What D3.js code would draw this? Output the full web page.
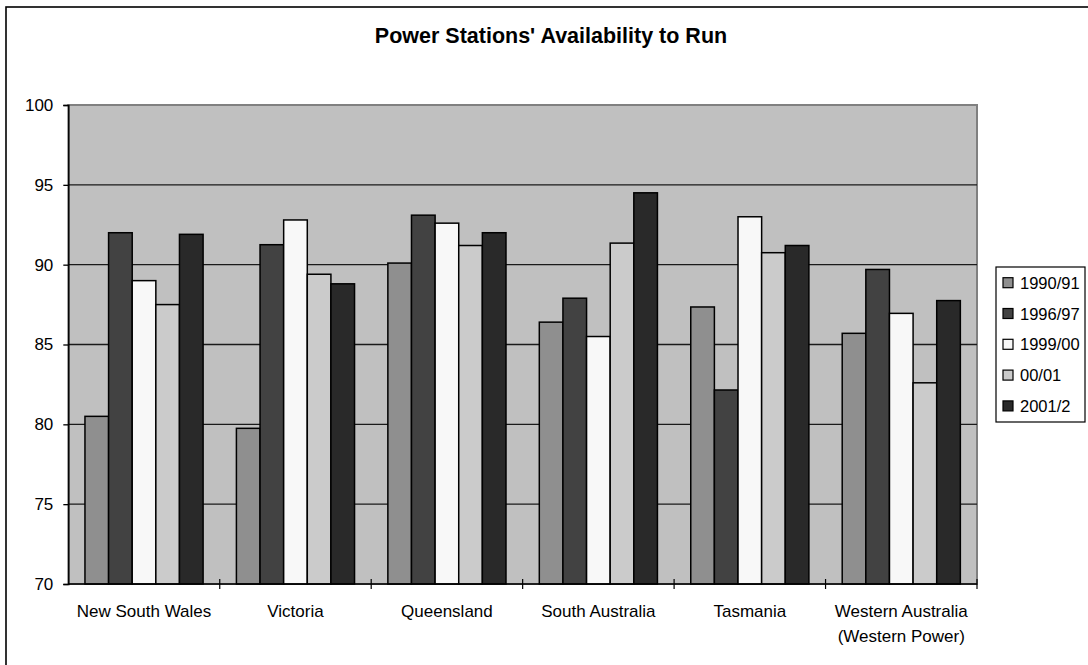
<!DOCTYPE html>
<html>
<head>
<meta charset="utf-8">
<script src="https://cdn.jsdelivr.net/npm/d3@7"></script>
<style>
  html, body { margin: 0; padding: 0; background: #fff; }
  svg { display: block; font-family: "Liberation Sans", Arial, sans-serif; }
</style>
</head>
<body>
<svg id="chart" width="1088" height="665"></svg>
<script>
// ---- data ----
const categories = [["New South Wales"], ["Victoria"], ["Queensland"], ["South Australia"], ["Tasmania"], ["Western Australia", "(Western Power)"]];
const seriesNames = ["1990/91", "1996/97", "1999/00", "00/01", "2001/2"];
const values1990 = [80.5, 79.75, 90.1, 86.4, 87.35, 85.7];
const values1996 = [92.0, 91.25, 93.1, 87.9, 82.15, 89.7];
const values1999 = [89.0, 92.8, 92.6, 85.5, 93.0, 86.95];
const values0001 = [87.5, 89.4, 91.2, 91.35, 90.75, 82.6];
const values2001 = [91.9, 88.8, 92.0, 94.5, 91.2, 87.75];
const yTicks = [70, 75, 80, 85, 90, 95, 100];
const title = "Power Stations' Availability to Run";

const seriesValues = [values1990, values1996, values1999, values0001, values2001];
const colors = ["#8f8f8f", "#424242", "#f8f8f8", "#cbcbcb", "#292929"];

const svg = d3.select("#chart");
const plot = { left: 68.3, right: 977, top: 105, bottom: 584 };

// outer chart border
svg.append("rect").attr("x", 6).attr("y", 7).attr("width", 1200).attr("height", 800)
  .attr("fill", "#fff").attr("stroke", "#000").attr("stroke-width", 1.6);

// title
svg.append("text").attr("x", 551).attr("y", 43).attr("text-anchor", "middle")
  .attr("font-size", 21.5).attr("font-weight", "bold").text(title);

const labels = categories.map(c => c.join(" "));
const x0 = d3.scaleBand().domain(labels).range([plot.left, plot.right]).padding(0);
const bw = x0.bandwidth();
const x1 = d3.scaleBand().domain(seriesNames).range([bw * 0.11, bw * 0.89]).padding(0);
const y = d3.scaleLinear().domain([70, 100]).range([plot.bottom, plot.top]);

// plot background
svg.append("rect").attr("x", plot.left).attr("y", plot.top)
  .attr("width", plot.right - plot.left).attr("height", plot.bottom - plot.top)
  .attr("fill", "#c0c0c0").attr("stroke", "#808080").attr("stroke-width", 2);

// gridlines
svg.append("g").selectAll("line").data(yTicks.filter(t => t > 70 && t < 100)).join("line")
  .attr("x1", plot.left).attr("x2", plot.right)
  .attr("y1", d => y(d)).attr("y2", d => y(d))
  .attr("stroke", "#1a1a1a").attr("stroke-width", 1.3);

// bars
const rows = labels.map((lab, i) => ({ lab, vals: seriesNames.map((s, j) => ({ s, j, v: seriesValues[j][i] })) }));
svg.append("g").selectAll("g").data(rows).join("g")
  .attr("transform", d => `translate(${x0(d.lab)},0)`)
  .selectAll("rect").data(d => d.vals).join("rect")
  .attr("x", d => x1(d.s))
  .attr("y", d => y(d.v))
  .attr("width", x1.bandwidth())
  .attr("height", d => y(70) - y(d.v))
  .attr("fill", d => colors[d.j])
  .attr("stroke", "#000").attr("stroke-width", 1.5);

// y axis
const yAxis = d3.axisLeft(y).tickValues(yTicks).tickSize(5).tickPadding(10).tickFormat(d3.format("d"));
const gy = svg.append("g").attr("transform", `translate(${plot.left},0)`).call(yAxis);
gy.select(".domain").attr("stroke", "#000").attr("stroke-width", 1.5);
gy.selectAll(".tick line").attr("stroke", "#000").attr("stroke-width", 1.3);
gy.selectAll(".tick text").attr("font-size", 17).attr("fill", "#000")
  .attr("font-family", "Liberation Sans, Arial, sans-serif");

// x axis
svg.append("line").attr("x1", plot.left).attr("x2", plot.right)
  .attr("y1", plot.bottom).attr("y2", plot.bottom)
  .attr("stroke", "#000").attr("stroke-width", 1.5);
const boundaries = labels.map(l => x0(l)).concat([plot.right]).slice(1);
svg.append("g").selectAll("line").data(boundaries).join("line")
  .attr("x1", d => d).attr("x2", d => d)
  .attr("y1", plot.bottom - 5).attr("y2", plot.bottom + 5)
  .attr("stroke", "#000").attr("stroke-width", 1.2);

const xl = svg.append("g").selectAll("text").data(categories).join("text")
  .attr("x", (d, i) => x0(labels[i]) + bw / 2)
  .attr("y", 617)
  .attr("text-anchor", "middle").attr("font-size", 17).attr("fill", "#000");
xl.selectAll("tspan").data(d => d).join("tspan")
  .attr("x", function () { return this.parentNode.getAttribute("x"); })
  .attr("dy", (d, i) => i === 0 ? 0 : 25)
  .text(d => d);

// legend
const lg = svg.append("g");
lg.append("rect").attr("x", 996).attr("y", 267).attr("width", 89).attr("height", 155)
  .attr("fill", "#fff").attr("stroke", "#000").attr("stroke-width", 1.2);
const items = lg.selectAll("g").data(seriesNames).join("g")
  .attr("transform", (d, i) => `translate(1003,${282.7 + i * 30.8})`);
items.append("rect").attr("x", 0).attr("y", -5).attr("width", 10).attr("height", 10)
  .attr("fill", (d, i) => colors[i]).attr("stroke", "#000").attr("stroke-width", 1.2);
items.append("text").attr("x", 17).attr("y", 6).attr("font-size", 16.5).attr("fill", "#000").text(d => d);
</script>
</body>
</html>
